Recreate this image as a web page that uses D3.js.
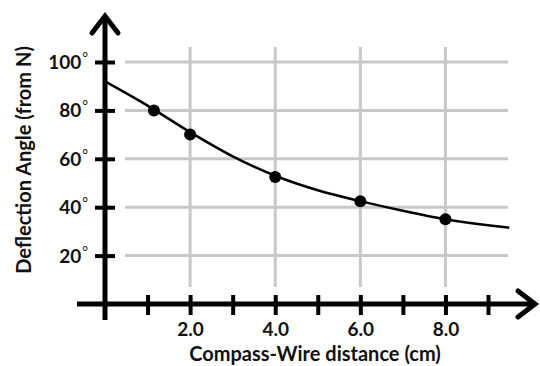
<!DOCTYPE html>
<html>
<head>
<meta charset="utf-8">
<script src="https://cdn.jsdelivr.net/npm/d3@7"></script>
<style>
  body { margin: 0; background: #fff; }
  text { font-family: Lato, "Open Sans", sans-serif; font-weight: bold; fill: #111; }
</style>
</head>
<body>
<div id="chart-container"></div>
<script>
// measured points
const distance = [1.15, 2, 4, 6, 8];
const angle = [80, 70, 52.5, 42.5, 35];

// smooth trend line
const curveX = [0, 1, 2, 3, 4, 5, 6, 7, 8, 9, 9.5];
const curveY = [92, 82, 71, 61, 53, 47, 42.5, 38.5, 35, 32.5, 31.5];

const xTicks = [1, 2, 3, 4, 5, 6, 7, 8, 9];
const xLabels = {2: '2.0', 4: '4.0', 6: '6.0', 8: '8.0'};
const yTicks = [20, 40, 60, 80, 100];
const xGrid = [2, 4, 6, 8];

const width = 540;
const height = 366;

const svg = d3.select('#chart-container')
    .append('svg')
    .attr('width', width)
    .attr('height', height);

const x = d3.scaleLinear().domain([0, 9]).range([105, 488]);
const y = d3.scaleLinear().domain([0, 100]).range([304, 62]);

// grid
svg.append('g')
    .selectAll('line')
    .data(xGrid)
    .join('line')
    .attr('x1', (d) => x(d)).attr('x2', (d) => x(d))
    .attr('y1', 47).attr('y2', 287)
    .attr('stroke', '#c8c8c8')
    .attr('stroke-width', 3);

svg.append('g')
    .selectAll('line')
    .data(yTicks)
    .join('line')
    .attr('x1', 125).attr('x2', 508)
    .attr('y1', (d) => y(d)).attr('y2', (d) => y(d))
    .attr('stroke', '#c8c8c8')
    .attr('stroke-width', 3);

// x axis
const xAxis = svg.append('g')
    .attr('transform', `translate(0, ${y(0)})`)
    .call(d3.axisBottom(x)
        .tickValues(xTicks)
        .tickSize(11)
        .tickPadding(8)
        .tickFormat((d) => xLabels[d] || ''));
xAxis.select('.domain').remove();
xAxis.selectAll('.tick line')
    .attr('y1', -9)
    .attr('stroke', '#000')
    .attr('stroke-width', 4);
xAxis.selectAll('.tick text')
    .attr('font-size', 19)
    .attr('font-family', 'Lato, sans-serif')
    .attr('font-weight', 'bold')
    .attr('fill', '#111');

// y axis
const yAxis = svg.append('g')
    .attr('transform', `translate(${x(0)}, 0)`)
    .call(d3.axisLeft(y)
        .tickValues(yTicks)
        .tickSize(10)
        .tickPadding(7));
yAxis.select('.domain').remove();
yAxis.selectAll('.tick line')
    .attr('x1', 10)
    .attr('stroke', '#000')
    .attr('stroke-width', 4);
yAxis.selectAll('.tick text')
    .attr('font-size', 19)
    .attr('font-family', 'Lato, sans-serif')
    .attr('font-weight', 'bold')
    .attr('fill', '#111')
    .attr('dy', '0.34em')
    .text((d) => d)
    .append('tspan')
    .attr('font-size', 14)
    .attr('font-weight', 'normal')
    .attr('dy', '-0.5em')
    .attr('dx', '1')
    .text('°');

// axis lines and arrows
svg.append('line')
    .attr('x1', 77).attr('x2', 535)
    .attr('y1', y(0)).attr('y2', y(0))
    .attr('stroke', '#000').attr('stroke-width', 5);
svg.append('line')
    .attr('x1', x(0)).attr('x2', x(0))
    .attr('y1', 320).attr('y2', 16)
    .attr('stroke', '#000').attr('stroke-width', 5);

svg.append('path')
    .attr('d', `M518,${y(0) - 13} L535,${y(0)} L518,${y(0) + 13}`)
    .attr('fill', 'none').attr('stroke', '#000')
    .attr('stroke-width', 5).attr('stroke-linecap', 'round')
    .attr('stroke-linejoin', 'miter');
svg.append('path')
    .attr('d', `M${x(0) - 13},33 L${x(0)},16 L${x(0) + 13},33`)
    .attr('fill', 'none').attr('stroke', '#000')
    .attr('stroke-width', 5).attr('stroke-linecap', 'round')
    .attr('stroke-linejoin', 'miter');

// trend curve
svg.append('path')
    .datum(curveX.map((d, i) => [d, curveY[i]]))
    .attr('d', d3.line()
        .x((d) => x(d[0]))
        .y((d) => y(d[1]))
        .curve(d3.curveMonotoneX))
    .attr('fill', 'none')
    .attr('stroke', '#000')
    .attr('stroke-width', 2.5);

// points
svg.append('g')
    .selectAll('circle')
    .data(distance)
    .join('circle')
    .attr('cx', (d) => x(d))
    .attr('cy', (d, i) => y(angle[i]))
    .attr('r', 6)
    .attr('fill', '#000');

// titles
svg.append('text')
    .attr('x', 315)
    .attr('y', 361)
    .attr('text-anchor', 'middle')
    .attr('font-size', 20)
    .text('Compass-Wire distance (cm)');

svg.append('text')
    .attr('transform', 'translate(31, 160) rotate(-90)')
    .attr('text-anchor', 'middle')
    .attr('font-size', 20)
    .text('Deflection Angle (from N)');
</script>
</body>
</html>
